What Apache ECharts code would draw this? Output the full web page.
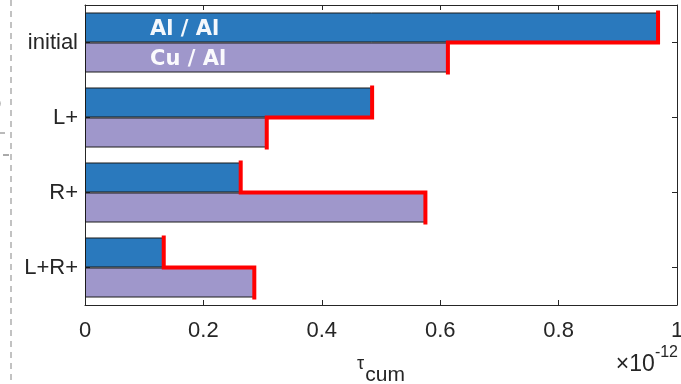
<!DOCTYPE html>
<html>
<head>
<meta charset="utf-8">
<script src="https://cdn.jsdelivr.net/npm/echarts@6/dist/echarts.min.js"></script>
<style>html,body{margin:0;padding:0;background:#fff;}#c{width:681px;height:384px;}</style>
</head>
<body>
<div id="c"></div>
<script>
const categories = ['initial', 'L+', 'R+', 'L+R+'];
const alAl = [0.968, 0.485, 0.263, 0.133];
const cuAl = [0.613, 0.307, 0.575, 0.286];
const seriesNames = ['Al / Al', 'Cu / Al'];
const xTicks = [0, 0.2, 0.4, 0.6, 0.8, 1];

const FONT = '"Liberation Sans", Arial, sans-serif';
const TXT = '#262626';

const chart = echarts.init(document.getElementById('c'), null, {renderer: 'canvas'});

function withLabel(arr, name) {
  return arr.map((v, i) => i === 0 ? {
    value: v,
    label: {
      show: true, formatter: name, position: 'insideLeft', distance: 65,
      color: 'rgba(255,255,255,0.95)', fontSize: 21, fontWeight: 'bold',
      fontFamily: '"DejaVu Sans", sans-serif', offset: [0, 2]
    }
  } : v);
}

const stepData = categories.map((c, i) => [i, alAl[i], cuAl[i]]);

const option = {
  animation: false,
  backgroundColor: '#fff',
  grid: {left: 85, right: 4, top: 5, bottom: 79, containLabel: false, outerBoundsMode: 'none'},
  xAxis: [{
    type: 'value', min: 0, max: 1, interval: 0.2, position: 'bottom',
    axisLine: {show: true, onZero: false, lineStyle: {color: TXT, width: 1}},
    axisTick: {show: true, inside: true, length: 5, lineStyle: {color: TXT}},
    axisLabel: {color: TXT, fontSize: 22, fontFamily: FONT, margin: 15,
      formatter: v => String(xTicks.find(t => Math.abs(t - v) < 1e-9) ?? v)},
    splitLine: {show: false},
    name: '{t|τ}{s|cum}', nameLocation: 'middle', nameGap: 50,
    nameTextStyle: {
      rich: {
        t: {fontSize: 18, fontFamily: FONT, color: TXT, verticalAlign: 'top', padding: [0, 1, 0, 0]},
        s: {fontSize: 21, fontFamily: FONT, color: TXT, padding: [10, 0, 0, 0]}
      }
    }
  }, {
    type: 'value', min: 0, max: 1, interval: 0.2, position: 'top',
    axisLine: {show: true, onZero: false, lineStyle: {color: TXT, width: 1}},
    axisTick: {show: true, inside: true, length: 5, lineStyle: {color: TXT}},
    axisLabel: {show: false}, splitLine: {show: false}
  }],
  yAxis: [{
    type: 'category', data: categories, inverse: true, position: 'left',
    axisLine: {show: true, onZero: false, lineStyle: {color: TXT, width: 1}},
    axisTick: {show: true, inside: true, length: 5, alignWithLabel: true, lineStyle: {color: TXT}},
    axisLabel: {color: TXT, fontSize: 22, fontFamily: FONT, margin: 7}
  }, {
    type: 'category', data: categories, inverse: true, position: 'right',
    axisLine: {show: true, onZero: false, lineStyle: {color: TXT, width: 1}},
    axisTick: {show: true, inside: true, length: 5, alignWithLabel: true, lineStyle: {color: TXT}},
    axisLabel: {show: false}
  }],
  series: [{
    name: seriesNames[0], type: 'bar', data: withLabel(alAl, seriesNames[0]),
    barGap: '0%', barCategoryGap: '20%',
    itemStyle: {color: '#2a79bd', borderColor: '#1a1a1a', borderWidth: 1}
  }, {
    name: seriesNames[1], type: 'bar', data: withLabel(cuAl, seriesNames[1]),
    barGap: '0%', barCategoryGap: '20%',
    itemStyle: {color: '#9f97cb', borderColor: '#1a1a1a', borderWidth: 1}
  }, {
    type: 'custom', data: stepData, z: 10,
    encode: {x: [1, 2], y: 0},
    renderItem: function (params, api) {
      const i = api.value(0), a = api.value(1), c = api.value(2);
      const ctr = api.coord([0, i]);
      const band = api.size([0, 1])[1];
      const h = band * 0.4;
      const pA = api.coord([a, i]);
      const pC = api.coord([c, i]);
      return {
        type: 'polyline',
        shape: {points: [[pA[0], ctr[1] - h], [pA[0], ctr[1]], [pC[0], ctr[1]], [pC[0], ctr[1] + h]]},
        style: {stroke: '#ff0000', lineWidth: 4, fill: null, lineJoin: 'miter', lineCap: 'square'}
      };
    }
  }],
  graphic: [{
    type: 'line', shape: {x1: 11, y1: 0, x2: 11, y2: 384},
    style: {stroke: '#9a9a9a', lineWidth: 1.2, lineDash: [6, 5]}
  }, {
    type: 'line', shape: {x1: 0, y1: 133, x2: 5, y2: 133}, style: {stroke: '#777', lineWidth: 1}
  }, {
    type: 'line', shape: {x1: 3, y1: 155, x2: 9, y2: 155}, style: {stroke: '#555', lineWidth: 1}
  }, {
    type: 'text', x: -4, y: 96, style: {text: ')', fontSize: 16, fontFamily: FONT, fill: '#444'}
  }, {
    type: 'text', right: 3, top: 345,
    style: {
      text: '{a|×10}{b|-12}',
      rich: {
        a: {fontSize: 23, fontFamily: FONT, fill: TXT, color: TXT, padding: [8, 0, 0, 0]},
        b: {fontSize: 16, fontFamily: FONT, fill: TXT, color: TXT, verticalAlign: 'top'}
      }
    }
  }]
};
chart.setOption(option);
</script>
</body>
</html>
